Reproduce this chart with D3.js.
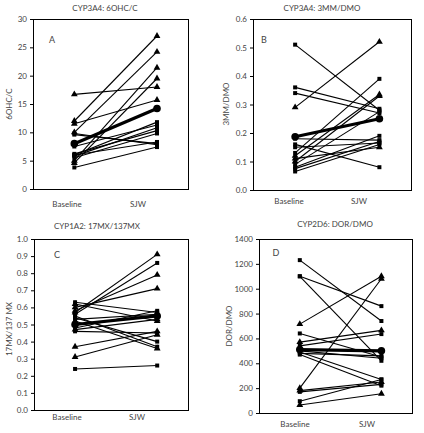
<!DOCTYPE html>
<html><head><meta charset="utf-8">
<script src="https://cdn.jsdelivr.net/npm/d3@7"></script>
<style>body{margin:0;background:#fff}svg{display:block}text{font-family:Lato,"Open Sans",sans-serif;fill:#444}</style>
</head><body>
<svg id="c" width="424" height="433"></svg>
<script>
const categories = ["Baseline", "SJW"];

// Panel A: CYP3A4 6OHC/C
const aBase  = [16.7, 12.0, 11.5, 10.0, 9.6, 5.0, 4.6, 6.0, 7.5, 5.8, 6.2, 5.5, 6.0, 3.8, 9.8];
const aSjw   = [18.0, 27.0, 15.7, 24.2, 8.0, 21.4, 19.5, 11.8, 11.3, 10.8, 10.3, 9.8, 8.3, 7.4, 7.8];
const aShape = ["t","t","t","t","s","t","t","s","s","s","s","s","s","s","s"];
const aMean  = [8.0, 14.2];
const aTicks = [0, 5, 10, 15, 20, 25, 30];

// Panel B: CYP3A4 3MM/DMO
const bBase  = [0.51, 0.36, 0.34, 0.29, 0.16, 0.18, 0.13, 0.12, 0.10, 0.09, 0.08, 0.075, 0.065, 0.11, 0.15];
const bSjw   = [0.28, 0.285, 0.27, 0.52, 0.08, 0.175, 0.39, 0.335, 0.33, 0.275, 0.19, 0.17, 0.16, 0.15, 0.165];
const bShape = ["s","s","s","t","s","s","s","t","t","s","s","s","s","t","s"];
const bMean  = [0.187, 0.25];
const bTicks = [0, 0.1, 0.2, 0.3, 0.4, 0.5, 0.6];

// Panel C: CYP1A2 17MX/137MX
const cBase  = [0.24, 0.31, 0.37, 0.57, 0.56, 0.58, 0.60, 0.63, 0.62, 0.55, 0.54, 0.52, 0.48, 0.46, 0.53, 0.47];
const cSjw   = [0.26, 0.44, 0.46, 0.91, 0.86, 0.79, 0.71, 0.57, 0.52, 0.37, 0.40, 0.36, 0.58, 0.45, 0.56, 0.53];
const cShape = ["s","t","t","t","s","t","t","s","t","s","s","t","s","s","s","t"];
const cMean  = [0.50, 0.55];
const cTicks = [0, 0.1, 0.2, 0.3, 0.4, 0.5, 0.6, 0.7, 0.8, 0.9, 1.0];

// Panel D: CYP2D6 DOR/DMO
const dBase  = [1230, 1100, 1100, 715, 200, 640, 570, 540, 490, 470, 480, 180, 170, 95, 65, 500];
const dSjw   = [740, 860, 420, 1100, 1080, 450, 665, 635, 270, 220, 460, 250, 230, 270, 155, 440];
const dShape = ["s","s","s","t","t","s","t","s","s","s","s","t","s","s","t","s"];
const dMean  = [510, 500];
const dTicks = [0, 200, 400, 600, 800, 1000, 1200, 1400];

const panels = [
  {title:"CYP3A4: 6OHC/C", letter:"A", ylab:"6OHC/C", base:aBase, sjw:aSjw, shape:aShape, mean:aMean, ticks:aTicks, fmt:d3.format("d"),
   box:[33,19,188,189], titleXY:[105,11], letterXY:[52,43], ylabXY:[9,104], xlabY:207, xlabX:[67,138]},
  {title:"CYP3A4: 3MM/DMO", letter:"B", ylab:"3MM/DMO", base:bBase, sjw:bSjw, shape:bShape, mean:bMean, ticks:bTicks, fmt:d3.format(".1f"),
   box:[253,19,411,190], titleXY:[322,11], letterXY:[264,43], ylabXY:[226,104], xlabY:204, xlabX:[289,359]},
  {title:"CYP1A2: 17MX/137MX", letter:"C", ylab:"17MX/137 MX", base:cBase, sjw:cSjw, shape:cShape, mean:cMean, ticks:cTicks, fmt:d3.format(".1f"),
   box:[34,239,188,410], titleXY:[97,229], letterXY:[57,258], ylabXY:[9,329], xlabY:420, xlabX:[67,137]},
  {title:"CYP2D6: DOR/DMO", letter:"D", ylab:"DOR/DMO", base:dBase, sjw:dSjw, shape:dShape, mean:dMean, ticks:dTicks, fmt:d3.format("d"),
   box:[259,239,412,413], titleXY:[335,227], letterXY:[276,256], ylabXY:[229,326], xlabY:427, xlabX:[295,367]}
];

const svg = d3.select("#c");
const fs = 8;

panels.forEach(p => {
  const [x0,y0,x1,y1] = p.box;
  const g = svg.append("g");
  const x = d3.scaleLinear().domain([0,3.75]).range([x0,x1]);
  const y = d3.scaleLinear().domain([p.ticks[0], p.ticks[p.ticks.length-1]]).range([y1,y0]);
  const xi = [1,3];

  // frame
  g.append("rect").attr("x",x0).attr("y",y0).attr("width",x1-x0).attr("height",y1-y0)
    .attr("fill","none").attr("stroke","#000").attr("stroke-width",1).attr("shape-rendering","crispEdges");

  // y axis
  const ax = g.append("g").attr("transform",`translate(${x0},0)`)
    .call(d3.axisLeft(y).tickValues(p.ticks).tickFormat(p.fmt).tickSize(3).tickPadding(3));
  ax.select(".domain").remove();
  ax.selectAll("line").attr("stroke","#000");
  ax.selectAll("text").attr("font-size",fs).style("font-family","Lato,sans-serif").attr("fill","#444");

  // lines
  p.base.forEach((b,i) => {
    g.append("line").attr("x1",x(xi[0])).attr("y1",y(b)).attr("x2",x(xi[1])).attr("y2",y(p.sjw[i]))
      .attr("stroke","#000").attr("stroke-width",1.1);
  });
  // markers
  const sym = {s:d3.symbolSquare, t:d3.symbolTriangle};
  const sz = {s:16, t:20};
  p.base.forEach((b,i) => {
    [b, p.sjw[i]].forEach((v,k) => {
      g.append("path").attr("d", d3.symbol().type(sym[p.shape[i]]).size(sz[p.shape[i]])())
        .attr("transform",`translate(${x(xi[k])},${y(v)})`).attr("fill","#000");
    });
  });
  // mean
  g.append("line").attr("x1",x(xi[0])).attr("y1",y(p.mean[0])).attr("x2",x(xi[1])).attr("y2",y(p.mean[1]))
    .attr("stroke","#000").attr("stroke-width",3.2);
  p.mean.forEach((v,k) => {
    g.append("circle").attr("cx",x(xi[k])).attr("cy",y(v)).attr("r",3.8).attr("fill","#000");
  });

  // texts
  g.append("text").attr("x",p.titleXY[0]).attr("y",p.titleXY[1]).attr("text-anchor","middle").attr("font-size",fs).text(p.title);
  g.append("text").attr("x",p.letterXY[0]).attr("y",p.letterXY[1]).attr("text-anchor","middle").attr("font-size",fs+1).text(p.letter);
  g.append("text").attr("transform",`translate(${p.ylabXY[0]},${p.ylabXY[1]}) rotate(-90)`).attr("text-anchor","middle")
    .attr("dy","0.35em").attr("font-size",fs).text(p.ylab);
  categories.forEach((c,k) => {
    g.append("text").attr("x",p.xlabX[k]).attr("y",p.xlabY).attr("text-anchor","middle").attr("font-size",fs).text(c);
  });
});
</script>
</body></html>
